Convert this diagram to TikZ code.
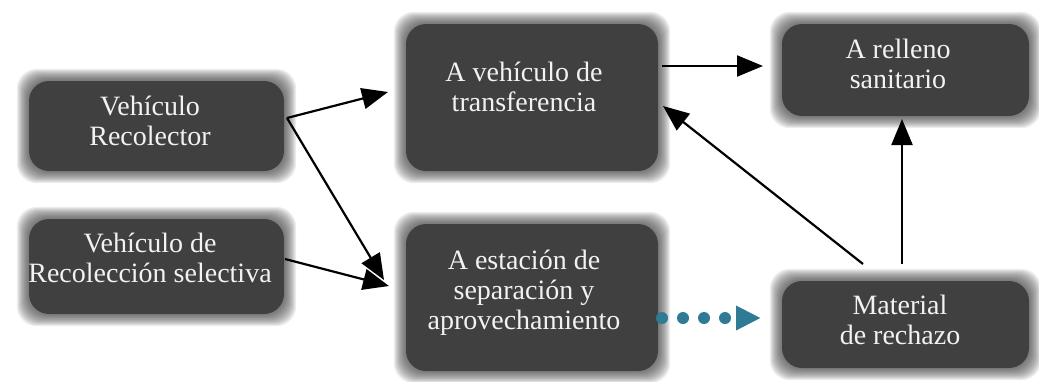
\documentclass[tikz,border=0pt]{standalone}
\usepackage{fontspec}
\setmainfont{Liberation Serif}
\usetikzlibrary{arrows.meta,backgrounds}
\definecolor{boxgray}{HTML}{404040}
\definecolor{txtwhite}{HTML}{F2F2F2}
\definecolor{teal}{HTML}{2E7B93}
\tikzset{
  box/.style={fill=boxgray, rounded corners=20pt, inner sep=0pt, draw=none},
  txt/.style={text=txtwhite, align=center, font=\fontsize{28}{30}\selectfont, inner sep=0pt},
  arr/.style={line width=2.2pt, -{Triangle[length=26pt,width=21pt]}},
  dotarr/.style={teal, line width=12pt, line cap=round, dash pattern=on 0pt off 21pt,
    -{Triangle[length=25pt,width=23pt,line cap=butt]}}
}
\begin{document}
\begin{tikzpicture}[x=1pt,y=-1pt]
\useasboundingbox (0,0) rectangle (1039,381);
% boxes
\node[box, minimum width=255pt, minimum height=90pt] (vr) at (156.5,126) {};
\node[box, minimum width=255pt, minimum height=95pt] (vs) at (156.5,266.5) {};
\node[box, minimum width=252pt, minimum height=147pt] (vt) at (532,97.5) {};
\node[box, minimum width=252pt, minimum height=147pt] (es) at (532,297.5) {};
\node[box, minimum width=247pt, minimum height=92pt] (rs) at (905.5,70) {};
\node[box, minimum width=247pt, minimum height=87pt] (mr) at (905.5,324.5) {};
% blur halos
\begin{scope}[on background layer]
\foreach \n in {vr,vs,vt,es,rs,mr}{
  \foreach \k in {1,...,12}{
    \fill[boxgray, opacity=0.09, rounded corners=20pt]
      ([shift={(-\k pt,\k pt)}]\n.north west) rectangle ([shift={(\k pt,-\k pt)}]\n.south east);
  }
}
\end{scope}
% texts
\node[txt] (vr-t) at (150,121) {Vehículo\\Recolector};
\node[txt] (vs-t) at (150,258) {Vehículo de\\Recolección selectiva};
\node[txt] (vt-t) at (524,87) {A vehículo de\\transferencia};
\node[txt] (es-t) at (524,293) {A estación de\\separación y\\aprovechamiento};
\node[txt] (rs-t) at (898,64) {A relleno\\sanitario};
\node[txt] (mr-t) at (900,320) {Material\\de rechazo};
% connector points
\coordinate (vr-out) at (287,118);
\coordinate (vs-out) at (285,259);
\coordinate (vt-in) at (388,92);
\coordinate (es-in1) at (384,280);
\coordinate (es-in2) at (389,286);
\coordinate (vt-out) at (662,66);
\coordinate (rs-in) at (763,66);
\coordinate (mr-out1) at (863,264);
\coordinate (vt-in2) at (663,106);
\coordinate (mr-out2) at (902,264);
\coordinate (rs-in2) at (902,119);
\coordinate (es-out) at (662,318);
\coordinate (mr-in) at (761,318);
% connectors
\draw[arr] (vr-out) -- (vt-in);
\draw[arr] (vr-out) -- (es-in1);
\draw[arr] (vs-out) -- (es-in2);
\draw[arr] (vt-out) -- (rs-in);
\draw[arr] (mr-out1) -- (vt-in2);
\draw[arr] (mr-out2) -- (rs-in2);
\draw[dotarr] (es-out) -- (mr-in);
\end{tikzpicture}
\end{document}
